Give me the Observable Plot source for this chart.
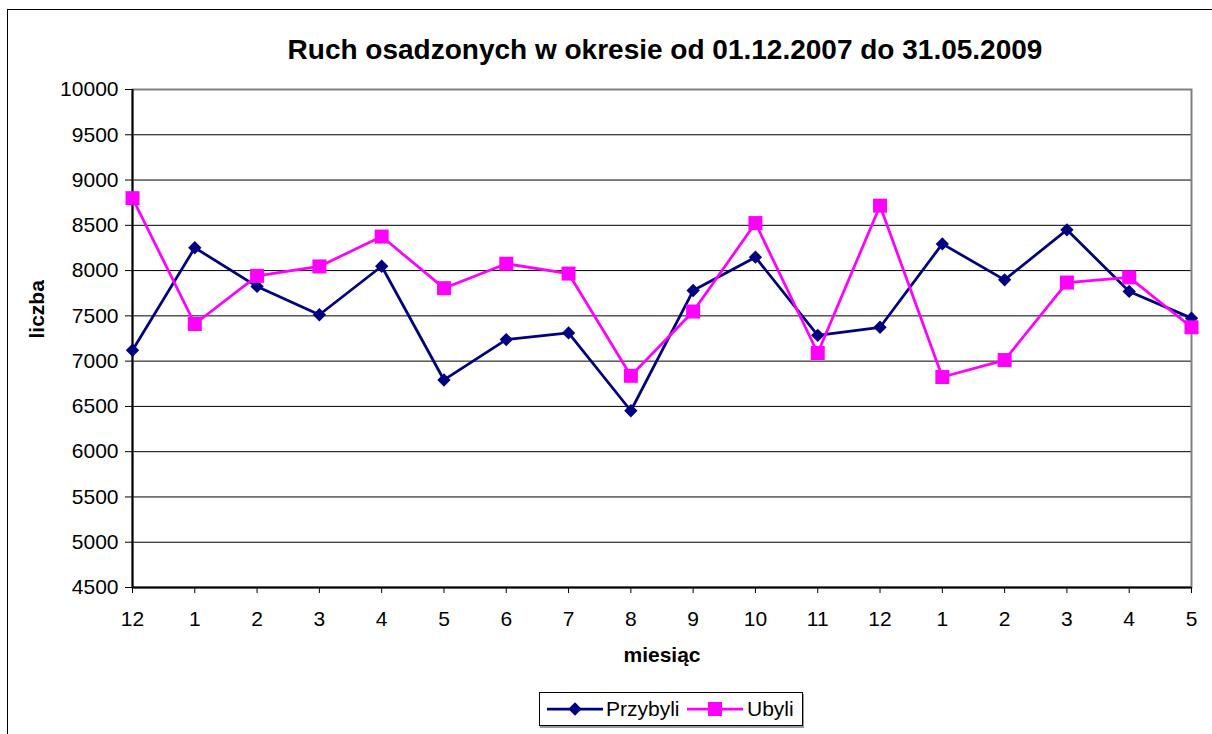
<!DOCTYPE html>
<html>
<head>
<meta charset="utf-8">
<script src="https://cdn.jsdelivr.net/npm/d3@7"></script>
<script src="https://cdn.jsdelivr.net/npm/@observablehq/plot@0.6"></script>
<style>
html, body { margin: 0; padding: 0; background: #fff; overflow: hidden; }
body { width: 1212px; height: 734px; position: relative; font-family: "Liberation Sans", Arial, sans-serif; color: #000; }
#frame { position: absolute; left: 7px; top: 9px; width: 1300px; height: 800px; border: 1px solid #000; }
#title { position: absolute; left: 0; width: 1330px; top: 36px; text-align: center; font-weight: bold; font-size: 28px; line-height: 28px; white-space: nowrap; }
#chart { position: absolute; left: 0; top: 80px; }
#legend { position: absolute; left: 539px; top: 692px; width: 264px; height: 34px; box-sizing: border-box; border: 1px solid #000; background: #fff; box-shadow: 1px 2px 0 #9a9a9a; font-size: 21px; }
#legend .sw { position: absolute; top: 8px; }
#legend .lb { position: absolute; top: 4px; line-height: 24px; white-space: nowrap; }
</style>
</head>
<body>
<div id="frame"></div>
<div id="title">Ruch osadzonych w okresie od 01.12.2007 do 31.05.2009</div>
<div id="chart"></div>
<div id="legend">
  <svg class="sw" style="left:7px" width="56" height="16"><line x1="0" y1="8" x2="56" y2="8" stroke="#000080" stroke-width="2.75"/><path d="M28,1.3L34.7,8L28,14.7L21.3,8Z" fill="#000080"/></svg>
  <span class="lb" style="left:66px">Przybyli</span>
  <svg class="sw" style="left:147px" width="56" height="16"><line x1="0" y1="8" x2="56" y2="8" stroke="#ff00ff" stroke-width="2.75"/><rect x="21" y="1" width="14" height="14" fill="#ff00ff"/></svg>
  <span class="lb" style="left:207px">Ubyli</span>
</div>
<script>
const months = ["12","1","2","3","4","5","6","7","8","9","10","11","12","1","2","3","4","5"];
const przybyli = [7120, 8252, 7825, 7512, 8048, 6792, 7238, 7312, 6452, 7780, 8148, 7285, 7374, 8295, 7898, 8450, 7770, 7475];
const ubyli = [8800, 7410, 7942, 8046, 8376, 7806, 8076, 7967, 6838, 7548, 8525, 7090, 8717, 6825, 7012, 7868, 7925, 7374];
const yTicks = [4500, 5000, 5500, 6000, 6500, 7000, 7500, 8000, 8500, 9000, 9500, 10000];

const idx = d3.range(months.length);
const rows = idx.map(i => ({i, month: months[i], p: przybyli[i], u: ubyli[i]}));

const plot = Plot.plot({
  width: 1212,
  height: 600,
  marginLeft: 132,
  marginRight: 21,
  marginTop: 9,
  marginBottom: 93,
  style: {fontFamily: '"Liberation Sans", Arial, sans-serif', fontSize: "21px", color: "#000", background: "transparent", overflow: "visible"},
  x: {type: "point", domain: idx, padding: 0, round: false},
  y: {domain: [4500, 10000]},
  marks: [
    Plot.ruleY(yTicks.slice(1, -1), {stroke: "#000", strokeWidth: 1}),
    Plot.frame({stroke: "#808080", strokeWidth: 2}),
    Plot.ruleX([0], {stroke: "#000", strokeWidth: 2}),
    Plot.ruleY([4500], {stroke: "#000", strokeWidth: 2}),
    Plot.axisY({ticks: yTicks, tickSize: 7, tickPadding: 7, tickFormat: d => String(d), label: null, fontSize: 21}),
    Plot.axisX({ticks: idx, tickSize: 6, tickPadding: 18, tickFormat: i => months[i], label: null, fontSize: 21}),
    Plot.line(rows, {x: "i", y: "p", stroke: "#000080", strokeWidth: 2.75}),
    Plot.dot(rows, {x: "i", y: "p", symbol: "diamond2", r: 6, fill: "#000080"}),
    Plot.line(rows, {x: "i", y: "u", stroke: "#ff00ff", strokeWidth: 2.75}),
    Plot.dot(rows, {x: "i", y: "u", symbol: "square", r: 7.9, fill: "#ff00ff"}),
    Plot.text(["liczba"], {text: d => d, frameAnchor: "left", dx: -95, rotate: -90, fontWeight: "bold", fontSize: 21}),
    Plot.text(["miesiąc"], {text: d => d, frameAnchor: "bottom", dy: 74, fontWeight: "bold", fontSize: 21})
  ]
});
document.getElementById("chart").appendChild(plot);
</script>
</body>
</html>
